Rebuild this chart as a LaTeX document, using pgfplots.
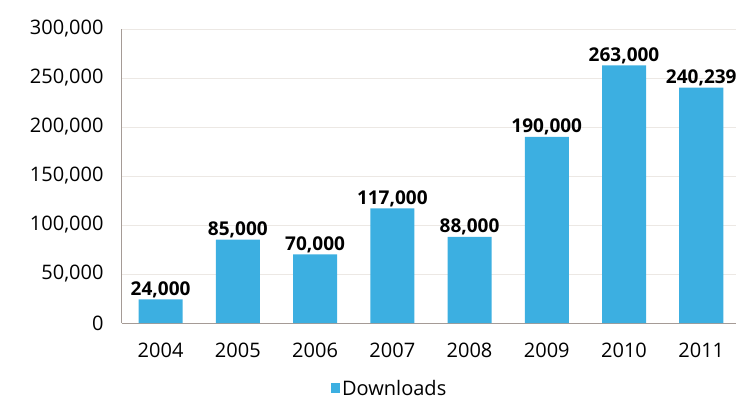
\documentclass[border=0pt]{standalone}
\usepackage{fontspec}
\setmainfont{Open Sans}
\usepackage{pgfplots}
\pgfplotsset{compat=1.18}
\definecolor{barblue}{RGB}{60,175,225}
\definecolor{axisgray}{RGB}{165,155,150}
\definecolor{gridgray}{RGB}{236,232,228}
\begin{document}
\begin{tikzpicture}
\begin{axis}[
  at={(122pt,77pt)}, anchor=south west,
  scale only axis, width=614pt, height=294pt,
  xmin=-0.5, xmax=7.45, ymin=0, ymax=300000,
  enlargelimits=false,
  axis lines*=left,
  axis line style={axisgray, line width=1pt},
  ybar, bar width=44pt,
  xtick={0,1,2,3,4,5,6,7},
  xticklabels={2004,2005,2006,2007,2008,2009,2010,2011},
  ytick={0,50000,100000,150000,200000,250000,300000},
  major tick length=0pt,
  ymajorgrids, grid style={gridgray, line width=1pt},
  scaled y ticks=false,
  ticklabel style={font=\fontsize{20}{24}\selectfont, text=black},
  xticklabel style={yshift=-16pt},
  yticklabel style={xshift=-15pt, /pgf/number format/fixed, /pgf/number format/1000 sep={,}, /pgf/number format/assume math mode=true},
  nodes near coords,
  nodes near coords style={font=\fontsize{19}{22}\selectfont\bfseries, text=black, anchor=south, inner sep=1.5pt, /pgf/number format/fixed, /pgf/number format/1000 sep={,}, /pgf/number format/assume math mode=true},
  legend style={at={(0.436,-0.222)}, anchor=center, draw=none, fill=none, font=\fontsize{20}{24}\selectfont, inner sep=0pt},
  legend image code/.code={\fill[barblue] (0pt,-5pt) rectangle (9pt,5pt);},
]
\addplot[fill=barblue, draw=none] coordinates {(0,24000) (1,85000) (2,70000) (3,117000) (4,88000) (5,190000) (6,263000) (7,240239)};
\addlegendentry{Downloads}
\end{axis}
\pgfresetboundingbox
\useasboundingbox (0,0) rectangle (736pt,400pt);
\end{tikzpicture}
\end{document}
